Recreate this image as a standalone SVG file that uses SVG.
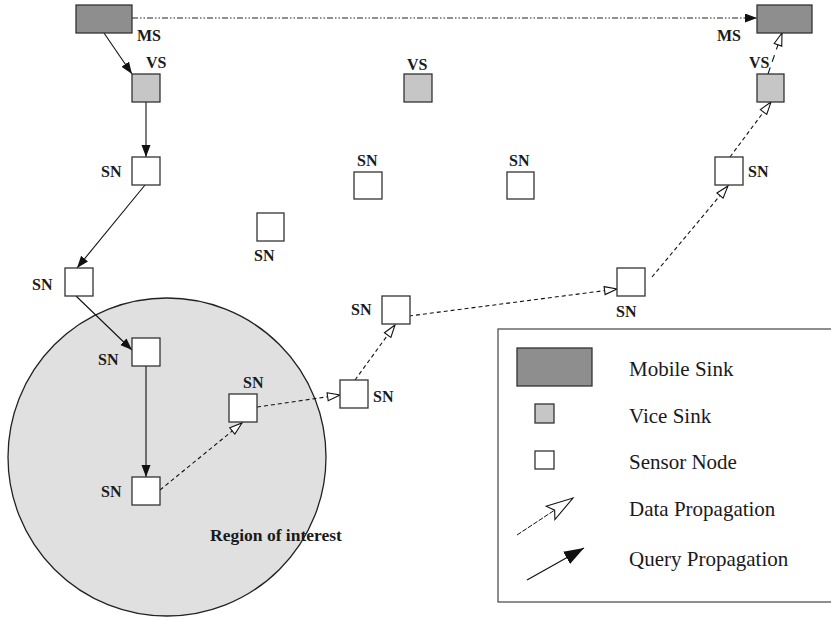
<svg xmlns="http://www.w3.org/2000/svg" width="831" height="621" viewBox="0 0 831 621">
  <style>
    .lbl { font-family: "Liberation Serif", "Times New Roman", serif; font-weight: bold; font-size: 16px; fill: #1a1a1a; }
    .leg { font-family: "Liberation Serif", "Times New Roman", serif; font-size: 21px; fill: #1a1a1a; }
    .ms { fill: #8e8e8e; stroke: #333; stroke-width: 1.3; }
    .vs { fill: #c6c6c6; stroke: #333; stroke-width: 1.3; }
    .sn { fill: #ffffff; stroke: #333; stroke-width: 1.3; }
    .query { fill: none; stroke: #111; stroke-width: 1.1; marker-end: url(#qhead); }
    .data { fill: none; stroke: #111; stroke-width: 1.1; stroke-dasharray: 4 3; marker-end: url(#dhead); }
    .datalong { fill: none; stroke: #111; stroke-width: 1.1; stroke-dasharray: 7 6; marker-end: url(#dhead); }
    .move { fill: none; stroke: #222; stroke-width: 1.1; stroke-dasharray: 6 2 1.5 2 1.5 2; marker-end: url(#qhead); }
  </style>
  <defs>
    <marker id="qhead" markerUnits="userSpaceOnUse" markerWidth="14" markerHeight="10" refX="12" refY="4.5" orient="auto">
      <path d="M0,0 L12,4.5 L0,9 Z" fill="#111"/>
    </marker>
    <marker id="dhead" markerUnits="userSpaceOnUse" markerWidth="16" markerHeight="12" refX="13.5" refY="5" orient="auto">
      <path d="M1,1 L13.5,5 L1,9 Z" fill="#fff" stroke="#111" stroke-width="1.1"/>
    </marker>
    <marker id="qheadBig" markerUnits="userSpaceOnUse" markerWidth="22" markerHeight="16" refX="20" refY="7" orient="auto">
      <path d="M0,0 L20,7 L0,14 Z" fill="#111"/>
    </marker>
    <marker id="dheadBig" markerUnits="userSpaceOnUse" markerWidth="30" markerHeight="20" refX="28" refY="9" orient="auto">
      <path d="M1,1 L28,9 L1,17 L6,9 Z" fill="#fff" stroke="#111" stroke-width="1.1"/>
    </marker>
  </defs>

  <!-- region of interest -->
  <g id="region">
    <circle cx="167" cy="457" r="159" fill="#e0e0e0" stroke="#222" stroke-width="1.3"/>
    <text class="lbl" x="210" y="541" style="font-size:17.5px">Region of interest</text>
  </g>

  <!-- connectors -->
  <g id="connectors">
    <line class="move" x1="132" y1="18" x2="757" y2="18"/>
    <line class="query" x1="104" y1="33" x2="132" y2="74"/>
    <line class="query" x1="146" y1="102" x2="146" y2="157"/>
    <line class="query" x1="145" y1="185" x2="77" y2="268"/>
    <line class="query" x1="76" y1="296" x2="132" y2="350"/>
    <line class="query" x1="146" y1="366" x2="146" y2="477"/>
    <line class="data" x1="160" y1="490" x2="242" y2="423"/>
    <line class="data" x1="257" y1="407" x2="340" y2="395"/>
    <line class="data" x1="355" y1="380" x2="395" y2="325"/>
    <line class="data" x1="409" y1="316" x2="617" y2="289"/>
    <line class="data" x1="652" y1="277" x2="728" y2="186"/>
    <line class="data" x1="730" y1="157" x2="771" y2="102"/>
    <line class="datalong" x1="768" y1="74" x2="782" y2="33"/>
  </g>

  <!-- sinks -->
  <g id="ms-left">
    <rect class="ms" x="76" y="5" width="56" height="28"/>
    <text class="lbl" x="137" y="41">MS</text>
  </g>
  <g id="ms-right">
    <rect class="ms" x="757" y="5" width="55" height="28"/>
    <text class="lbl" x="717" y="41">MS</text>
  </g>
  <g id="vs-left">
    <rect class="vs" x="132" y="74" width="28" height="28"/>
    <text class="lbl" x="146" y="68">VS</text>
  </g>
  <g id="vs-mid">
    <rect class="vs" x="404" y="74" width="28" height="28"/>
    <text class="lbl" x="407" y="70">VS</text>
  </g>
  <g id="vs-right">
    <rect class="vs" x="757" y="74" width="27" height="28"/>
    <text class="lbl" x="749" y="68">VS</text>
  </g>

  <!-- sensor nodes -->
  <g id="sn1">
    <rect class="sn" x="132" y="157" width="28" height="28"/>
    <text class="lbl" x="101" y="177">SN</text>
  </g>
  <g id="sn2">
    <rect class="sn" x="65" y="268" width="28" height="28"/>
    <text class="lbl" x="32" y="290">SN</text>
  </g>
  <g id="sn3">
    <rect class="sn" x="132" y="338" width="28" height="28"/>
    <text class="lbl" x="98" y="365">SN</text>
  </g>
  <g id="sn4">
    <rect class="sn" x="132" y="477" width="28" height="28"/>
    <text class="lbl" x="101" y="497">SN</text>
  </g>
  <g id="sn5">
    <rect class="sn" x="229" y="394" width="28" height="28"/>
    <text class="lbl" x="243" y="388">SN</text>
  </g>
  <g id="sn6">
    <rect class="sn" x="340" y="380" width="28" height="28"/>
    <text class="lbl" x="373" y="402">SN</text>
  </g>
  <g id="sn7">
    <rect class="sn" x="382" y="296" width="28" height="28"/>
    <text class="lbl" x="351" y="315">SN</text>
  </g>
  <g id="sn8">
    <rect class="sn" x="617" y="268" width="28" height="28"/>
    <text class="lbl" x="616" y="317">SN</text>
  </g>
  <g id="sn9">
    <rect class="sn" x="715" y="157" width="28" height="28"/>
    <text class="lbl" x="748" y="177">SN</text>
  </g>
  <g id="sn10">
    <rect class="sn" x="354" y="172" width="28" height="27"/>
    <text class="lbl" x="357" y="166">SN</text>
  </g>
  <g id="sn11">
    <rect class="sn" x="507" y="172" width="27" height="27"/>
    <text class="lbl" x="509" y="166">SN</text>
  </g>
  <g id="sn12">
    <rect class="sn" x="257" y="213" width="27" height="28"/>
    <text class="lbl" x="254" y="261">SN</text>
  </g>

  <!-- legend -->
  <g id="legend">
    <rect x="498" y="329" width="345" height="273" fill="#fff" stroke="#444" stroke-width="1.2"/>
    <rect class="ms" x="517" y="348" width="75" height="38"/>
    <text class="leg" x="629" y="376">Mobile Sink</text>
    <rect class="vs" x="535" y="404" width="19" height="19"/>
    <text class="leg" x="629" y="423">Vice Sink</text>
    <rect class="sn" x="535" y="451" width="19" height="18"/>
    <text class="leg" x="629" y="469">Sensor Node</text>
    <line x1="517" y1="535" x2="573" y2="498" stroke="#111" stroke-width="1" stroke-dasharray="5 1.5" marker-end="url(#dheadBig)"/>
    <text class="leg" x="629" y="516">Data Propagation</text>
    <line x1="527" y1="580" x2="584" y2="548" stroke="#111" stroke-width="1.2" marker-end="url(#qheadBig)"/>
    <text class="leg" x="629" y="566">Query Propagation</text>
  </g>
</svg>
